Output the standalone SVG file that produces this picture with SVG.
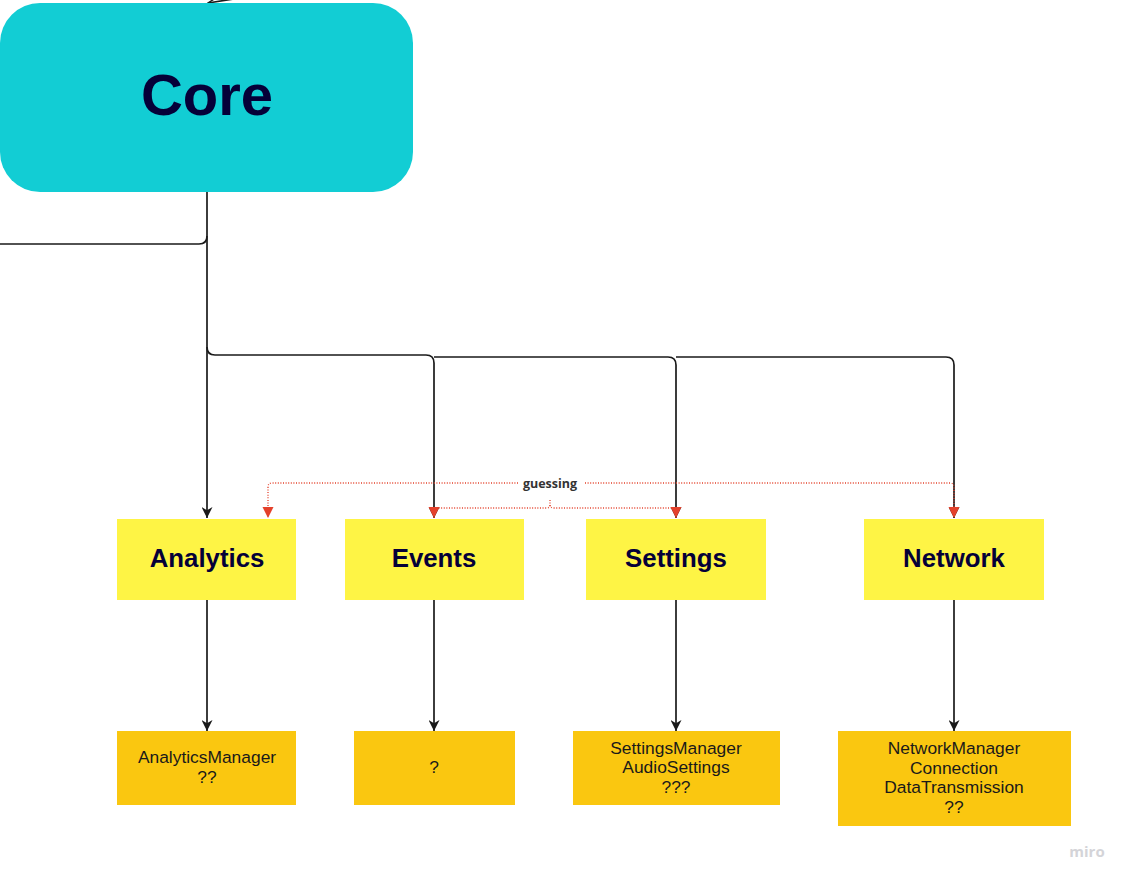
<svg xmlns="http://www.w3.org/2000/svg" width="1131" height="883" viewBox="0 0 1131 883">
<style>
.title{font-family:"Liberation Sans",Arial,sans-serif;font-weight:bold;fill:#050038;text-anchor:middle}
.item{font-family:"Liberation Sans",Arial,sans-serif;font-size:17.4px;fill:#1a1a1a;text-anchor:middle}
.conn{fill:none;stroke:#1a1a1a;stroke-width:1.7}
.dot{fill:none;stroke:#e4412b;stroke-width:1.3;stroke-dasharray:1 1.6}
.cat{fill:#fef445}
.sub{fill:#fac710}
</style>
<defs>
<marker id="ab" viewBox="0 0 10 10" refX="10" refY="5" markerWidth="11" markerHeight="11" markerUnits="userSpaceOnUse" orient="auto">
<path d="M0,0 L10,5 L0,10 L3,5 Z" fill="#1a1a1a"/>
</marker>
<marker id="ar" viewBox="0 0 10 10" refX="10" refY="5" markerWidth="11" markerHeight="12" markerUnits="userSpaceOnUse" orient="auto">
<path d="M0,0 L10,5 L0,10 Z" fill="#e4412b"/>
</marker>
<marker id="ao" viewBox="0 0 10 10" refX="9" refY="5" markerWidth="10" markerHeight="10" markerUnits="userSpaceOnUse" orient="auto">
<path d="M0,1 L9,5 L0,9" fill="none" stroke="#1a1a1a" stroke-width="1.4"/>
</marker>
</defs>
<rect width="1131" height="883" fill="#ffffff"/>
<g id="connectors">
<path class="conn" d="M240,-2 L208,3" marker-end="url(#ao)"/>
<path class="conn" d="M207,192 L207,518" marker-end="url(#ab)"/>
<path class="conn" d="M207,236 Q207,244 199,244 L0,244"/>
<path class="conn" d="M207,347 Q207,355 215,355 L426,355 Q434,355 434,363 L434,518" marker-end="url(#ab)"/>
<path class="conn" d="M434,357 L668,357 Q676,357 676,365 L676,518" marker-end="url(#ab)"/>
<path class="conn" d="M676,357 L946,357 Q954,357 954,365 L954,518" marker-end="url(#ab)"/>
<path class="conn" d="M207,600 L207,731" marker-end="url(#ab)"/>
<path class="conn" d="M434,600 L434,731" marker-end="url(#ab)"/>
<path class="conn" d="M676,600 L676,731" marker-end="url(#ab)"/>
<path class="conn" d="M954,600 L954,731" marker-end="url(#ab)"/>
<path class="dot" d="M518,483 L272,483 Q268,483 268,487 L268,518" marker-end="url(#ar)"/>
<path class="dot" d="M585,483 L950,483 Q954,483 954,487 L954,518" marker-end="url(#ar)"/>
<path class="dot" d="M550,500 L550,505 Q550,508 546,508 L438,508 Q434,508 434,512 L434,518" marker-end="url(#ar)"/>
<path class="dot" d="M550,505 Q550,508 554,508 L672,508 Q676,508 676,512 L676,518" marker-end="url(#ar)"/>
<text x="550" y="488" font-family="'Open Sans','Noto Sans',sans-serif" font-size="12.5" font-weight="bold" fill="#333333" text-anchor="middle">guessing</text>
</g>
<g id="core">
<rect x="0" y="3" width="413" height="189" rx="40" fill="#12cdd4"/>
<text class="title" x="207" y="115" font-size="58">Core</text>
</g>
<g id="analytics">
<rect class="cat" x="117" y="519" width="179" height="81"/>
<text class="title" x="207" y="567" font-size="25.8">Analytics</text>
</g>
<g id="events">
<rect class="cat" x="345" y="519" width="179" height="81"/>
<text class="title" x="434" y="567" font-size="25.8">Events</text>
</g>
<g id="settings">
<rect class="cat" x="586" y="519" width="180" height="81"/>
<text class="title" x="676" y="567" font-size="25.8">Settings</text>
</g>
<g id="network">
<rect class="cat" x="864" y="519" width="180" height="81"/>
<text class="title" x="954" y="567" font-size="25.8">Network</text>
</g>
<g id="analytics-items">
<rect class="sub" x="117" y="731" width="179" height="74"/>
<text class="item" x="207" y="763">AnalyticsManager</text>
<text class="item" x="207" y="783">??</text>
</g>
<g id="events-items">
<rect class="sub" x="354" y="731" width="161" height="74"/>
<text class="item" x="434" y="773">?</text>
</g>
<g id="settings-items">
<rect class="sub" x="573" y="731" width="207" height="74"/>
<text class="item" x="676" y="754">SettingsManager</text>
<text class="item" x="676" y="773">AudioSettings</text>
<text class="item" x="676" y="793">???</text>
</g>
<g id="network-items">
<rect class="sub" x="838" y="731" width="233" height="95"/>
<text class="item" x="954" y="754">NetworkManager</text>
<text class="item" x="954" y="774">Connection</text>
<text class="item" x="954" y="793">DataTransmission</text>
<text class="item" x="954" y="813">??</text>
</g>
<text x="1087" y="857" font-family="'Open Sans','Noto Sans',sans-serif" font-size="15" font-weight="bold" fill="#d4d4d8" text-anchor="middle">miro</text>
</svg>
